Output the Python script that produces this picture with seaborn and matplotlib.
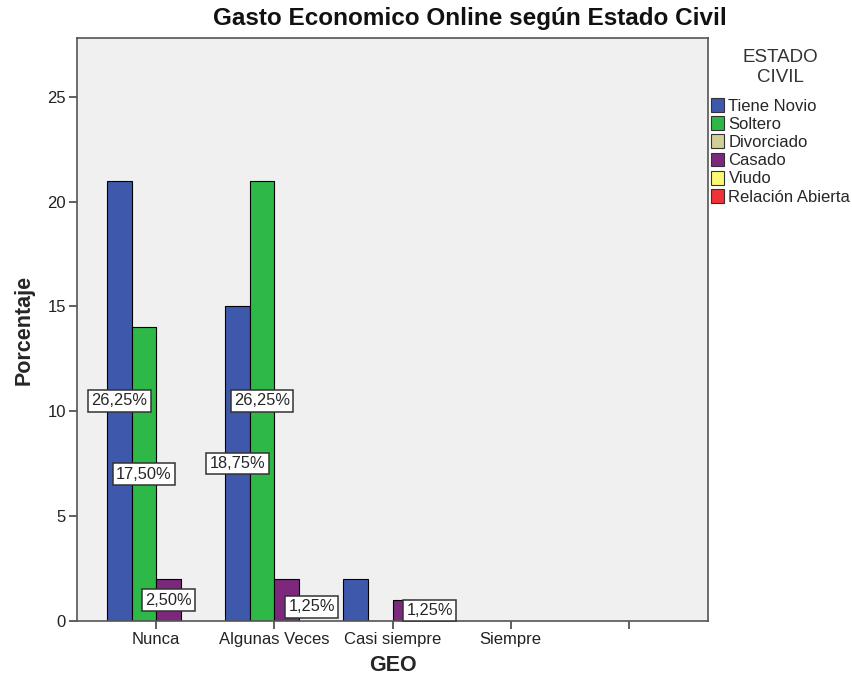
import matplotlib
matplotlib.use("Agg")
import matplotlib.pyplot as plt
from matplotlib.patches import Patch
import seaborn as sns
import pandas as pd

categories = ["Nunca", "Algunas Veces", "Casi siempre", "Siempre", ""]
estados = ["Tiene Novio", "Soltero", "Divorciado", "Casado", "Viudo", "Relación Abierta"]
slot_order = ["Tiene Novio", "Soltero", "Casado", "Viudo"]
tiene_novio = [21, 15, 2, 0, 0]
soltero = [14, 21, 0, 0, 0]
casado = [2, 2, 1, 0, 0]
viudo = [0, 0, 0, 0, 0]
labels_text = ["26,25%", "17,50%", "2,50%", "18,75%", "26,25%", "1,25%", "1,25%"]
label_cat = ["Nunca", "Nunca", "Nunca", "Algunas Veces", "Algunas Veces", "Algunas Veces", "Casi siempre"]
label_ser = ["Tiene Novio", "Soltero", "Casado", "Tiene Novio", "Soltero", "Casado", "Casado"]
label_val = [21, 14, 2, 15, 21, 2, 1]
label_off = [(0, 0), (0, 0), (0, 0), (0, 0), (0, 0), (18, -5), (18, 0)]

colors = {"Tiene Novio": "#3E58AC", "Soltero": "#2EB848", "Divorciado": "#D3CE97",
          "Casado": "#7C287D", "Viudo": "#FBF873", "Relación Abierta": "#EF3338"}

rows = []
for ser, vals in [("Tiene Novio", tiene_novio), ("Soltero", soltero), ("Casado", casado), ("Viudo", viudo)]:
    for c, v in zip(categories, vals):
        if v > 0:
            rows.append({"GEO": c, "Estado": ser, "Porcentaje": v})
df = pd.DataFrame(rows)

sns.set_style("white")
plt.rcParams["font.family"] = ["Liberation Sans", "DejaVu Sans"]

fig = plt.figure(figsize=(8.53, 6.85), dpi=100)
ax = fig.add_axes([77/853, 1-621/685, (708-77)/853, (621-38)/685])
ax.set_facecolor("#F0F0F0")

width = 0.83
sns.barplot(data=df, x="GEO", y="Porcentaje", hue="Estado", order=categories,
            hue_order=slot_order, palette=colors, width=width, dodge=True,
            edgecolor="black", linewidth=0.8, saturation=1, legend=False, ax=ax, errorbar=None)

ax.set_xlim(-0.67, 4.67)
ax.set_ylim(0, 27.8)
ax.set_yticks([0, 5, 10, 15, 20, 25])
ax.set_xticks(range(len(categories)))
ax.set_xticklabels(categories)
ax.tick_params(axis="both", which="major", bottom=True, left=True, direction="out",
               length=6, width=1.2, color="#444444", labelsize=12, labelcolor="#222222", pad=2)
for s in ax.spines.values():
    s.set_color("#555555")
    s.set_linewidth(1.2)

ax.set_xlabel("GEO", fontsize=15.5, fontweight="bold", labelpad=6)
ax.set_ylabel("Porcentaje", fontsize=15.5, fontweight="bold", labelpad=9)
fig.text(470/853, 1-19/685, "Gasto Economico Online según Estado Civil",
         fontsize=17.5, fontweight="bold", ha="center", va="center", color="#111111")

bw = width / len(slot_order)
for txt, c, s, v, off in zip(labels_text, label_cat, label_ser, label_val, label_off):
    xi = categories.index(c) - width/2 + bw * (slot_order.index(s) + 0.5)
    ax.annotate(txt, (xi, v/2), xytext=off, textcoords="offset points",
                ha="center", va="center", fontsize=11.8,
                bbox=dict(boxstyle="square,pad=0.2", fc="white", ec="#333333", lw=1.1))

handles = [Patch(facecolor=colors[e], edgecolor="#333333", linewidth=0.8) for e in estados]
leg = fig.legend(handles, estados, loc="upper left", bbox_to_anchor=(711/853, 1-49/685),
                 frameon=False, fontsize=12, title="ESTADO\nCIVIL", title_fontsize=13.5,
                 handlelength=0.8, handleheight=0.9, handletextpad=0.25, labelspacing=0.15,
                 borderaxespad=0, borderpad=0)
leg.get_title().set_multialignment("center")
leg.get_title().set_color("#333333")
leg._legend_box.sep = 9

fig.savefig("out.png", dpi=100)
